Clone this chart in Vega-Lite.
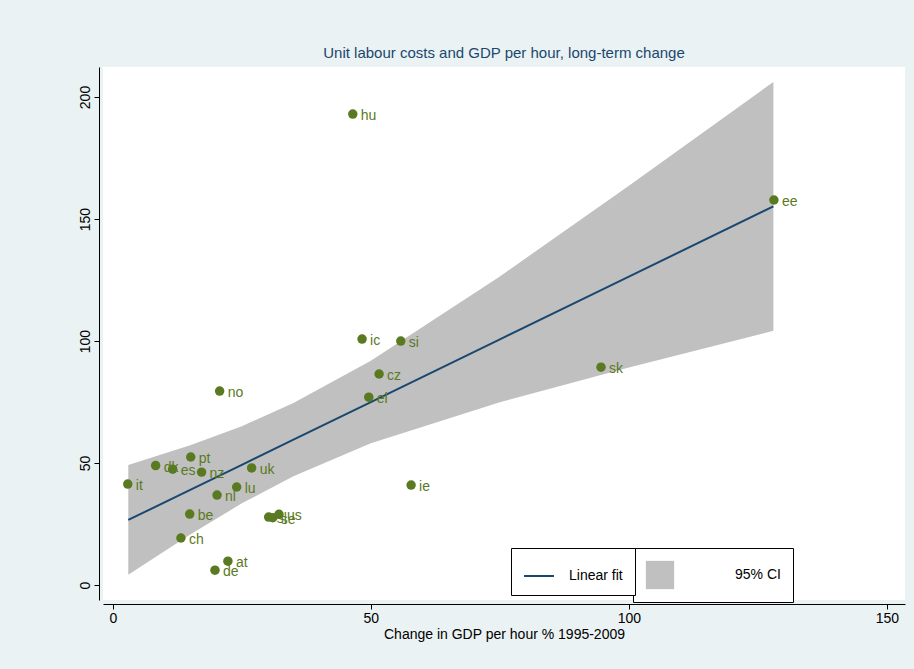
{
"$schema":"https://vega.github.io/schema/vega-lite/v6.json",
"width":802,"height":533,
"autosize":{"type":"none"},
"padding":{"left":103,"top":67,"right":9,"bottom":69},
"background":"#eaf2f3",
"config":{"view":{"fill":"white","stroke":null},"font":"Liberation Sans"},
"title":{"text":"Unit labour costs and GDP per hour, long-term change","color":"#1a476f","fontSize":15,"fontWeight":"normal","offset":6},
"datasets":{
"pts":[{"c":"it","x":2.9,"y":41.4},{"c":"dk","x":8.3,"y":49},{"c":"es","x":11.6,"y":47.5},{"c":"pt","x":15.1,"y":52.5},{"c":"nz","x":17.2,"y":46.3},{"c":"no","x":20.7,"y":79.5},{"c":"nl","x":20.2,"y":36.9},{"c":"be","x":14.9,"y":29.1},{"c":"ch","x":13.2,"y":19.3},{"c":"at","x":22.3,"y":9.8},{"c":"de","x":19.8,"y":6.1},{"c":"lu","x":24.0,"y":40.2},{"c":"uk","x":26.9,"y":48},{"c":"sl","x":30.2,"y":27.9},{"c":"se","x":31.0,"y":27.6},{"c":"us","x":32.2,"y":29.0},{"c":"hu","x":46.5,"y":193},{"c":"ic","x":48.3,"y":100.8},{"c":"si","x":55.8,"y":100},{"c":"cz","x":51.6,"y":86.5},{"c":"el","x":49.6,"y":77},{"c":"ie","x":57.8,"y":41},{"c":"sk","x":94.6,"y":89.3},{"c":"ee","x":128.1,"y":157.8}],
"fit":[{"x":3,"f":26.7,"lo":4.2,"hi":49.2},{"x":15,"f":39.0,"lo":20.7,"hi":57.3},{"x":25,"f":49.3,"lo":33.5,"hi":65.1},{"x":35,"f":59.6,"lo":44.6,"hi":74.6},{"x":50,"f":75.0,"lo":58.1,"hi":91.9},{"x":75,"f":100.7,"lo":74.9,"hi":126.5},{"x":100,"f":126.4,"lo":89.2,"hi":163.6},{"x":128,"f":155.2,"lo":104.2,"hi":206.2}]
},
"layer":[
{"data":{"name":"fit"},"mark":{"type":"area","opacity":1},
 "encoding":{"x":{"field":"x","type":"quantitative","scale":{"domain":[-1.9,153.5],"nice":false,"zero":false},
   "axis":{"title":"Change in GDP per hour % 1995-2009","values":[0,50,100,150],"grid":false,"domain":true,"domainColor":"black","tickColor":"black","labelFontSize":14,"titleFontSize":14,"titleFontWeight":"normal","labelColor":"black","titlePadding":2,"offset":4}},
  "y":{"field":"lo","type":"quantitative","scale":{"domain":[-6.1,212.3],"nice":false,"zero":false},
   "axis":{"title":null,"values":[0,50,100,150,200],"grid":false,"domainColor":"black","tickColor":"black","labelFontSize":14,"labelAngle":-90,"labelAlign":"center","labelBaseline":"bottom","labelColor":"black","offset":4}},
  "y2":{"field":"hi"},
  "fill":{"datum":"95% CI","type":"nominal","scale":{"range":["#c0c0c0"]},"legend":{"title":null,"orient":"none","legendX":530,"legendY":481,"symbolType":"square","symbolSize":800,"labelFontSize":14,"labelOffset":60,"strokeColor":"black","padding":12,"fillColor":"white"}}}},
{"data":{"name":"fit"},"mark":{"type":"line","strokeWidth":2},
 "encoding":{"x":{"field":"x","type":"quantitative"},"y":{"field":"f","type":"quantitative"},
  "stroke":{"datum":"Linear fit","type":"nominal","scale":{"range":["#1a476f"]},"legend":{"title":null,"orient":"none","legendX":408,"legendY":481,"symbolType":"stroke","symbolSize":900,"symbolStrokeWidth":2,"labelFontSize":14,"labelOffset":14,"padding":12,"strokeColor":"black","fillColor":"white"}}}},
{"data":{"name":"pts"},"mark":{"type":"circle","size":90,"color":"#5a7a22","opacity":1},
 "encoding":{"x":{"field":"x","type":"quantitative"},"y":{"field":"y","type":"quantitative"}}},
{"data":{"name":"pts"},"mark":{"type":"text","align":"left","dx":8,"dy":2,"fontSize":14,"color":"#5a7a22"},
 "encoding":{"x":{"field":"x","type":"quantitative"},"y":{"field":"y","type":"quantitative"},"text":{"field":"c"}}}
]
}
